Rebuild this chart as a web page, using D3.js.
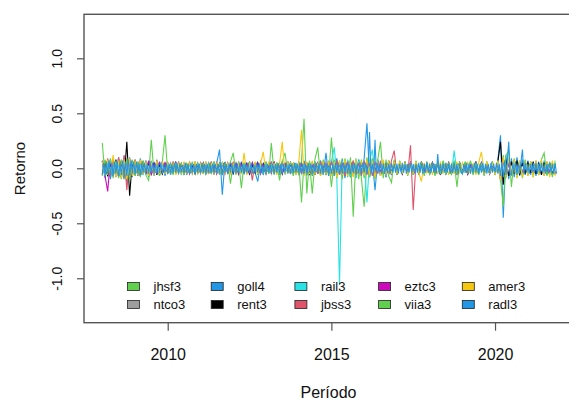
<!DOCTYPE html>
<html>
<head>
<meta charset="utf-8">
<script src="https://cdn.jsdelivr.net/npm/d3@7"></script>
<style>
  body { margin: 0; background: #fff; }
  svg { display: block; }
  text { font-family: "Liberation Sans", Arial, Helvetica, sans-serif; fill: #111; }
</style>
</head>
<body>
<svg id="chart" width="569" height="401"></svg>
<script>
// Monthly returns, one row per year (Jan 2008 .. Nov 2021)
const seriesNames = ["jhsf3", "ntco3", "goll4", "rent3", "rail3", "jbss3", "eztc3", "viia3", "amer3", "radl3"];
const seriesColors = ["#61D04F", "#9E9E9E", "#2297E6", "#000000", "#28E2E5", "#DF536B", "#CD0BBC", "#61D04F", "#F5C710", "#2297E6"];
// observations per month for each series (radl3 is sampled twice a month)
const seriesPerMonth = [1, 1, 1, 1, 1, 1, 1, 1, 1, 2];
const firstYear = 2008;

const jhsf3 = [
  .23,-.08,.06,-.09,.07,-.06,.05,-.1,.09,-.12,.08,-.07,
  .06,-.07,.08,-.05,.07,-.06,.26,-.06,.05,-.07,.06,-.05,
  .05,-.04,.06,-.05,.04,-.06,.05,-.04,.05,-.05,.04,-.05,
  .04,-.05,.05,-.04,.06,-.05,.04,-.06,.05,-.04,.05,-.14,
  .05,-.04,.06,-.05,.04,-.05,.06,-.04,.05,-.06,.04,-.05,
  .05,-.05,.23,-.04,.05,-.06,.07,-.05,.06,-.04,.05,-.06,
  .05,-.31,.06,-.07,.05,-.23,.06,-.05,.07,-.06,.05,-.07,
  .28,-.07,.08,-.06,.09,-.07,.06,-.08,.07,-.06,.08,-.09,
  -.35,.07,-.08,.09,-.06,.08,-.07,.06,-.08,.07,-.06,.07,
  -.05,.06,-.05,.04,-.06,.05,-.04,.05,-.06,.05,-.04,.05,
  -.05,.04,-.06,.05,-.04,.06,-.05,.04,-.05,.06,-.17,.05,
  -.05,.04,-.05,.06,-.04,.05,-.06,.05,-.04,.05,-.05,.06,
  -.05,.06,-.1,.12,-.09,.08,-.07,.06,-.08,.05,-.06,.07,
  -.05,.06,-.05,.04,-.06,.05,-.07,.05,-.06,.05,-.04
];
const ntco3 = [
  -.06,.07,-.08,.06,-.09,.07,-.06,.08,-.1,.09,-.07,.06,
  -.07,.06,-.05,.07,-.06,.05,-.07,.06,-.05,.04,-.06,.05,
  -.04,.05,-.04,.03,-.05,.04,-.03,.04,-.05,.04,-.03,.04,
  -.05,.04,-.03,.05,-.04,.03,-.05,.04,-.06,.05,-.04,.03,
  -.04,.05,-.04,.03,-.05,.04,-.03,.05,-.04,.03,-.05,.04,
  -.03,.04,-.05,.04,-.03,.05,-.04,.03,-.04,.05,-.03,.04,
  -.05,.04,-.06,.05,-.04,.06,-.05,.04,-.06,.05,-.04,.05,
  -.06,.05,-.07,.06,-.05,.07,-.06,.05,-.07,.06,-.05,.06,
  -.07,.06,-.05,.07,-.06,.05,-.06,.05,-.04,.06,-.05,.04,
  -.04,.05,-.04,.03,-.05,.04,-.03,.04,-.05,.04,-.03,.05,
  -.04,.05,-.06,.04,-.05,.06,-.04,.05,-.04,.03,-.05,.04,
  -.04,.03,-.05,.04,-.03,.05,-.04,.05,-.03,.04,-.05,.04,
  -.05,.04,-.12,.1,-.08,.07,-.06,.05,-.07,.06,-.05,.06,
  -.06,.05,-.04,.06,-.05,.04,-.06,.05,-.04,.05,-.06
];
const goll4 = [
  .07,-.09,.08,-.1,.09,-.08,.1,-.09,.11,-.13,.1,-.08,
  .08,-.07,.09,-.06,.07,-.08,.06,-.07,.08,-.06,.05,-.07,
  .05,-.06,.04,-.05,.06,-.04,.05,-.06,.05,-.04,.06,-.05,
  .04,-.05,.06,-.05,.04,-.06,.05,.17,-.24,.06,-.05,.04,
  -.06,.05,-.04,.06,-.05,.04,-.06,.05,-.04,-.12,.05,-.06,
  .05,-.04,.06,-.05,.04,-.06,.05,-.04,.06,-.05,.04,-.05,
  .06,-.05,.07,-.06,.05,-.07,.06,-.05,.07,-.06,.14,-.07,
  .08,-.07,.09,-.06,.08,-.09,.07,-.08,.06,-.09,.08,-.07,
  .09,.41,-.08,.07,-.2,.08,-.07,.06,-.08,.07,-.06,.05,
  -.06,.05,-.04,.06,-.05,.04,-.06,.05,-.04,.06,-.05,.04,
  -.05,.06,-.05,.04,-.06,.05,-.04,.06,-.05,.04,-.06,.05,
  -.04,.05,-.06,.04,-.05,.06,-.04,.05,-.06,.04,-.05,.06,
  -.06,.08,.3,-.45,.12,-.1,.09,-.08,.1,-.07,.08,-.06,
  .07,-.06,.05,-.07,.06,-.05,.07,-.06,.05,-.06,.05
];
const rent3 = [
  -.05,.06,-.07,.05,-.06,.08,-.07,.06,-.09,.24,-.25,.07,
  -.06,.05,-.07,.06,-.05,.06,-.04,.05,-.06,.04,-.05,.04,
  -.04,.03,-.04,.05,-.03,.04,-.05,.03,-.04,.03,-.05,.04,
  -.03,.04,-.05,.03,-.04,.05,-.03,.04,-.05,.04,-.03,.04,
  -.04,.03,-.05,.04,-.03,.04,-.05,.03,-.04,.05,-.03,.04,
  -.05,.04,-.03,.05,-.04,.03,-.05,.04,-.03,.04,-.05,.03,
  -.04,.05,-.04,.03,-.05,.04,-.06,.05,-.04,.03,-.05,.04,
  -.05,.06,-.04,.05,-.06,.04,-.05,.06,-.05,.04,-.06,.05,
  -.05,.04,-.06,.05,-.04,.06,-.05,.04,-.05,.06,-.04,.05,
  -.04,.03,-.05,.04,-.03,.05,-.04,.03,-.04,.05,-.03,.04,
  -.04,.05,-.03,.04,-.06,.05,-.04,.03,-.05,.04,-.03,.05,
  -.03,.04,-.05,.03,-.04,.05,-.03,.04,-.05,.04,-.03,.04,
  -.04,.06,.24,-.15,.08,-.07,.06,-.05,.07,-.06,.05,-.04,
  .05,-.04,.06,-.05,.04,-.06,.05,-.04,.05,-.06,.04
];
const rail3 = [
  .05,-.06,.07,-.05,.06,-.07,.05,-.06,.08,-.07,.06,-.05,
  .06,-.05,.04,-.06,.05,-.04,.06,-.05,.04,-.05,.06,-.04,
  .04,-.03,.05,-.04,.03,-.05,.04,-.03,.04,-.04,.03,-.04,
  .03,-.04,.04,-.03,.05,-.04,.03,-.04,.05,-.03,.04,-.03,
  .04,-.05,.03,-.04,.04,-.03,.05,-.04,.03,-.04,.05,-.03,
  .04,-.03,.05,-.04,.03,-.04,.04,-.05,.03,-.04,.03,-.05,
  .04,-.05,.04,-.03,.05,-.04,.06,-.05,.04,-.06,.05,-.04,
  .06,.19,-.06,-1.06,.07,-.06,.08,-.07,.06,-.08,.07,-.06,
  .08,-.31,.07,.17,-.06,.07,-.05,.06,-.07,.05,-.06,.05,
  -.04,.05,-.04,.03,-.05,.04,-.03,.05,-.04,.03,-.04,.05,
  -.03,.04,-.05,.04,-.03,.05,-.04,.03,-.05,.16,-.04,.03,
  -.04,.05,-.03,.04,-.05,.03,-.04,.05,-.03,.04,-.05,.04,
  -.05,.06,-.09,.08,-.07,.06,-.05,.07,-.06,.05,-.04,.06,
  -.05,.04,-.06,.05,-.04,.05,-.06,.04,-.05,.04,-.05
];
const jbss3 = [
  .07,-.06,.09,-.07,.08,-.06,.1,-.07,.12,-.2,.09,-.07,
  .08,-.06,.07,-.05,.06,-.07,.05,-.06,.07,-.05,.06,-.04,
  .05,-.04,.06,-.03,.05,-.04,.04,-.05,.06,-.04,.05,-.03,
  .05,-.04,.04,-.05,.06,-.03,.05,-.04,.04,-.05,.05,-.04,
  .06,-.04,.05,-.03,.04,-.05,.06,-.11,.05,-.04,.06,-.03,
  .05,-.04,.06,-.05,.04,-.03,.05,-.04,.06,-.05,.04,-.04,
  .05,-.05,.06,-.04,.05,-.06,.04,-.05,.06,-.04,.05,-.05,
  .06,-.05,.07,-.06,.05,-.07,.06,-.05,.07,-.06,.05,-.06,
  .07,-.06,.05,-.07,.06,-.05,.07,-.06,.05,-.06,.07,.16,
  -.06,.05,-.04,.06,-.05,.21,-.38,.05,-.04,.06,-.05,.04,
  -.04,.05,-.03,.04,-.05,.04,-.03,.05,-.04,.03,-.05,.04,
  -.03,.04,-.05,.03,-.04,.05,-.03,.04,-.05,.03,-.04,.05,
  -.04,.05,-.08,.09,-.07,.06,-.05,.07,-.06,.05,-.04,.06,
  -.05,.04,-.05,.06,-.04,.05,-.06,.04,-.05,.04,-.05
];
const eztc3 = [
  .06,-.07,-.21,.08,-.07,.06,-.08,.07,-.09,.08,-.1,.07,
  -.06,.05,-.07,.06,-.05,.07,-.06,.04,-.05,.06,-.04,.05,
  -.04,.03,-.04,.05,-.03,.04,-.04,.03,-.05,.04,-.03,.04,
  -.04,.05,-.03,.04,-.04,.03,-.05,.04,-.03,.04,-.04,.05,
  -.03,.04,-.05,.04,-.03,.04,-.04,.05,-.03,.04,-.05,.03,
  -.04,.03,-.04,.05,-.04,.03,-.05,.04,-.03,.05,-.04,.03,
  -.05,.04,-.03,.04,-.05,.04,-.03,.05,-.04,.03,-.04,.05,
  -.05,.06,-.05,.04,-.06,.05,-.04,.06,-.05,.04,-.06,.05,
  -.04,.05,-.06,.04,-.05,.06,-.04,.05,-.06,.04,-.05,.04,
  -.03,.04,-.05,.03,-.04,.05,-.03,.04,-.04,.05,-.03,.04,
  -.05,.03,-.04,.05,-.03,.04,-.05,.03,-.04,.04,-.03,.05,
  -.04,.03,-.05,.04,-.03,.04,-.04,.05,-.03,.04,-.05,.03,
  -.04,.05,-.09,.08,-.06,.05,-.07,.06,-.05,.04,-.06,.05,
  -.04,.05,-.04,.03,-.05,.04,-.03,.05,-.04,.03,-.04
];
const viia3 = [
  -.07,.08,-.06,.09,-.08,.07,-.09,.08,-.1,.09,-.11,.08,
  -.07,.06,-.08,.07,-.06,-.11,.07,-.06,.05,-.07,.06,.3,
  -.05,.04,-.06,.05,-.04,.05,-.06,.04,-.05,.06,-.04,.05,
  -.04,.05,-.06,.04,-.05,.06,-.04,.05,-.06,.05,-.04,.06,
  .14,-.05,.06,-.18,.05,-.04,.06,-.05,.04,-.06,.05,-.04,
  .06,-.05,.04,-.06,.05,-.11,.06,.14,-.05,.06,-.07,.05,
  -.06,.07,.45,-.23,.07,-.06,.08,.19,-.07,.08,-.06,.07,
  -.17,.08,-.09,.07,-.1,.09,-.08,.1,-.44,.09,-.1,.08,
  -.09,.1,-.08,.09,-.1,.08,.24,-.09,.08,-.07,-.13,.08,
  -.06,.07,-.05,.06,-.07,.05,-.06,.07,-.05,.06,-.07,.05,
  -.06,.05,-.07,.06,-.05,.07,-.06,.05,-.06,.07,-.05,.06,
  -.05,.06,-.05,.07,-.06,.05,-.06,.05,-.07,.06,-.05,.06,
  -.06,.07,-.1,-.35,.12,.16,-.17,.09,-.08,.07,-.09,.08,
  -.07,.06,-.08,.07,-.06,.08,.14,-.07,.06,-.08,.07
];
const amer3 = [
  .06,-.07,.08,-.06,.12,-.08,.07,-.09,.08,-.1,.09,-.07,
  .07,-.06,.08,-.05,.06,-.07,.05,-.06,.07,-.05,.06,-.05,
  .05,-.04,.05,-.06,.04,-.05,.06,-.04,.05,-.04,.06,-.05,
  .04,-.05,.06,-.04,.05,-.06,.04,-.05,.06,-.04,.05,-.06,
  .05,-.06,.04,-.05,.14,-.06,.05,-.04,.06,-.05,.04,.15,
  -.05,.06,-.04,.05,-.06,.04,.24,-.05,.06,-.04,.05,-.06,
  .05,.35,-.07,.06,-.05,.07,-.06,.05,-.07,.06,-.05,.06,
  -.07,.06,-.08,.07,-.06,.08,-.07,.06,-.08,.07,-.06,.07,
  -.07,.08,-.06,.07,-.08,.06,-.07,.08,-.06,.07,-.05,.06,
  -.05,.06,-.04,.05,-.06,.04,-.05,.06,-.04,-.12,.05,-.04,
  .05,-.06,.04,-.05,.06,-.04,.05,-.06,.04,-.05,.06,-.04,
  .05,-.04,.06,-.05,.04,-.06,.05,.15,-.05,.06,-.04,.05,
  -.06,.07,-.11,.1,-.08,.09,-.07,.08,-.09,.07,-.08,.06,
  -.07,.06,-.08,.07,-.06,.08,-.07,.06,-.08,.07,-.07
];
// radl3: two observations per month, one row per year
const radl3 = [
  -.06,.05,-.07,.06,-.05,.07,-.06,.05,-.07,.06,-.05,.06,-.07,.05,-.06,.07,-.08,.06,-.07,.08,-.06,.07,-.05,.06,
  -.05,.06,-.05,.04,-.06,.05,-.04,.05,-.05,.04,-.05,.06,-.04,.05,-.05,.04,-.05,.05,-.04,.05,-.05,.04,-.04,.05,
  -.04,.04,-.05,.04,-.04,.05,-.04,.04,-.05,.04,-.04,.03,-.04,.05,-.04,.04,-.05,.04,-.04,.04,-.05,.04,-.04,.04,
  -.04,.05,-.04,.04,-.05,.04,-.04,.05,-.04,.04,-.05,.04,-.04,.04,-.05,.05,-.06,.05,-.04,.04,-.05,.04,-.04,.05,
  -.04,.04,-.05,.04,-.04,.05,-.04,.04,-.05,.04,-.04,.05,-.04,.04,-.05,.04,-.04,.05,-.04,.04,-.05,.04,-.04,.04,
  -.05,.04,-.04,.05,-.04,.04,-.05,.04,-.04,.05,-.04,.04,-.05,.04,-.04,.05,-.04,.04,-.05,.04,-.04,.05,-.04,.04,
  -.04,.05,-.04,.04,-.05,.04,-.04,.05,-.04,.04,-.05,.04,-.04,.05,-.04,.04,-.05,.04,-.04,.05,-.04,.04,-.05,.04,
  -.05,.04,-.05,.05,-.04,.05,-.05,.04,-.05,.05,-.04,.05,-.05,.04,-.05,.05,-.04,.05,-.05,.04,-.05,.05,-.04,.05,
  -.04,.05,-.05,.04,.33,-.05,.04,-.05,.26,-.04,.05,-.04,.05,-.05,.04,-.05,.05,-.04,.04,-.05,.05,-.04,.04,-.04,
  .04,-.05,.04,-.04,.05,-.04,.04,-.05,.04,-.04,.05,-.04,.04,-.05,.04,-.04,.05,-.04,.04,-.05,.04,-.04,.05,-.04,
  .04,-.04,.05,-.04,.04,-.05,.13,-.04,.04,-.05,.04,-.04,.05,-.04,.04,-.05,.04,-.04,.05,-.04,.04,-.05,.04,-.04,
  -.05,.04,-.04,.05,-.04,.04,-.05,.04,-.04,.05,-.04,.04,-.05,.04,-.04,.05,-.04,.04,-.05,.04,-.04,.05,-.04,.04,
  -.04,.05,-.05,.04,-.07,.06,-.08,.07,-.06,.07,.24,-.05,-.06,.05,-.05,.06,-.06,.05,-.05,.06,.17,-.05,.05,-.04,
  .04,-.05,.04,-.04,.05,-.04,.05,-.05,.04,-.04,.05,-.04,.04,-.05,.04,-.05,.05,-.04,.04,-.05,.04,-.05
];
const seriesValues = [jhsf3, ntco3, goll4, rent3, rail3, jbss3, eztc3, viia3, amer3, radl3];

const yTicks = [-1, -0.5, 0, 0.5, 1];
const xTickYears = [2010, 2015, 2020];
const xLabel = "Período";
const yLabel = "Retorno";

// ---- layout ----
const plot = { left: 84, right: 573, top: 14.3, bottom: 322.7 };
const svg = d3.select("#chart");

const x = d3.scaleTime()
  .domain([new Date(2007, 5, 12), new Date(2022, 4, 20)])
  .range([plot.left, plot.right]);
const y = d3.scaleLinear()
  .domain([-1.404, 1.4])
  .range([plot.bottom, plot.top]);

// date of the k-th observation for a series sampled n times a month
const obsDate = (k, n) => new Date(firstYear, Math.floor(k / n), 2 + Math.round((k % n) * 30 / n));

// ---- series lines ----
const seriesData = seriesValues.map((vals, s) =>
  vals.map((v, k) => ({ date: obsDate(k, seriesPerMonth[s]), value: v })));

const line = d3.line()
  .x(d => x(d.date))
  .y(d => y(d.value));

svg.append("g")
  .selectAll("path")
  .data(seriesData)
  .join("path")
  .attr("d", d => line(d))
  .attr("fill", "none")
  .attr("stroke", (d, i) => seriesColors[i])
  .attr("stroke-width", 1.1);

// ---- frame ----
svg.append("rect")
  .attr("x", plot.left).attr("y", plot.top)
  .attr("width", plot.right - plot.left)
  .attr("height", plot.bottom - plot.top)
  .attr("fill", "none")
  .attr("stroke", "#555")
  .attr("stroke-width", 1.4);

// ---- y axis ----
const yAxis = svg.append("g")
  .attr("transform", `translate(${plot.left},0)`)
  .call(d3.axisLeft(y).tickValues(yTicks).tickSize(7).tickFormat(d => d.toFixed(1)));
yAxis.select(".domain").remove();
yAxis.selectAll(".tick line").attr("stroke", "#555").attr("stroke-width", 1.2);
yAxis.selectAll(".tick text")
  .attr("transform", "rotate(-90)")
  .attr("x", 0).attr("y", -22).attr("dy", 0)
  .attr("text-anchor", "middle")
  .style("font-size", "14px")
  .style("font-family", "'Liberation Sans', Arial, sans-serif")
  .attr("fill", "#111");

// ---- x axis ----
const xAxis = svg.append("g")
  .attr("transform", `translate(0,${plot.bottom})`)
  .call(d3.axisBottom(x)
    .tickValues(xTickYears.map(yr => new Date(yr, 0, 1)))
    .tickSize(8)
    .tickFormat(d3.timeFormat("%Y")));
xAxis.select(".domain").remove();
xAxis.selectAll(".tick line").attr("stroke", "#555").attr("stroke-width", 1.2);
xAxis.selectAll(".tick text")
  .attr("y", 37).attr("dy", 0)
  .style("font-size", "16px")
  .style("font-family", "'Liberation Sans', Arial, sans-serif")
  .attr("fill", "#111");

// ---- axis titles ----
svg.append("text")
  .attr("x", (plot.left + plot.right) / 2)
  .attr("y", 397.5)
  .attr("text-anchor", "middle")
  .style("font-size", "16px")
  .text(xLabel);

svg.append("text")
  .attr("transform", `translate(25,${(plot.top + plot.bottom) / 2}) rotate(-90)`)
  .attr("text-anchor", "middle")
  .style("font-size", "15px")
  .text(yLabel);

// ---- legend: 2 rows x 5 columns, filled column by column ----
const legend = svg.append("g");
const colX = d3.scaleLinear().domain([0, 1]).range([127.5, 211.2]);
const rowY = [286.5, 304.5];
seriesNames.forEach((name, i) => {
  const col = Math.floor(i / 2), row = i % 2;
  const g = legend.append("g")
    .attr("transform", `translate(${colX(col)},${rowY[row]})`);
  g.append("rect")
    .attr("x", 0).attr("y", -4)
    .attr("width", 12).attr("height", 8)
    .attr("fill", seriesColors[i])
    .attr("stroke", "#222")
    .attr("stroke-width", 0.8);
  g.append("text")
    .attr("x", 26).attr("y", 4.5)
    .style("font-size", "13px")
    .text(name);
});
</script>
</body>
</html>
